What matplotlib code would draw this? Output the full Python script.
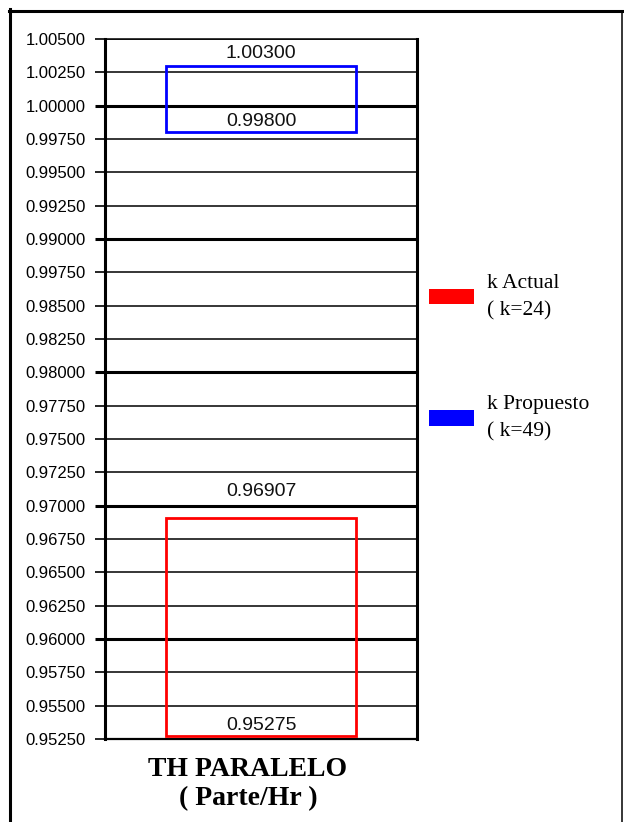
import matplotlib
matplotlib.use('Agg')
import matplotlib.pyplot as plt
from matplotlib.patches import Patch
from matplotlib.lines import Line2D

# datos: rango de TH paralelo para cada k
series = ['k Actual\n( k=24)', 'k Propuesto\n( k=49)']
lows = [0.95275, 0.99800]
highs = [0.96907, 1.00300]
colors = ['#ff0000', '#0000ff']
label_offsets = [13, 2.5]  # separacion de la etiqueta superior (pt)

yticks = [1.00500, 1.00250, 1.00000, 0.99750, 0.99500, 0.99250, 0.99000,
          0.98750, 0.98500, 0.98250, 0.98000, 0.97750, 0.97500, 0.97250,
          0.97000, 0.96750, 0.96500, 0.96250, 0.96000, 0.95750, 0.95500,
          0.95250]
ytick_labels = ['1.00500', '1.00250', '1.00000', '0.99750', '0.99500',
                '0.99250', '0.99000', '0.99750', '0.98500', '0.98250',
                '0.98000', '0.97750', '0.97500', '0.97250', '0.97000',
                '0.96750', '0.96500', '0.96250', '0.96000', '0.95750',
                '0.95500', '0.95250']
xlabel = 'TH PARALELO\n( Parte/Hr )'

W, H = 624, 822
fig = plt.figure(figsize=(W / 100, H / 100), dpi=100)
fig.patch.set_facecolor('white')

# marco exterior
fig.add_artist(Line2D([10 / W, 10 / W], [0, 1 - 9 / H], color='black', lw=2.2, transform=fig.transFigure))
fig.add_artist(Line2D([9 / W, 623 / W], [1 - 11 / H, 1 - 11 / H], color='black', lw=2.2, transform=fig.transFigure))
fig.add_artist(Line2D([622 / W, 622 / W], [0, 1 - 11 / H], color='black', lw=1.1, transform=fig.transFigure))

ax = fig.add_axes([105 / W, 1 - 739 / H, 312 / W, 700 / H])
ax.set_xlim(0, 1)
ax.set_ylim(0.9525, 1.005)

# cajas
for lo, hi, c, off in zip(lows, highs, colors, label_offsets):
    ax.bar(0.5, hi - lo, bottom=lo, width=0.606, fill=False, edgecolor=c,
           linewidth=2, zorder=3)
    ax.annotate(f'{hi:.5f}', (0.5, hi), xytext=(0, off), textcoords='offset points',
                ha='center', va='bottom', fontsize=14, family='Liberation Sans',
                color='#111111')
    ax.annotate(f'{lo:.5f}', (0.5, lo), xytext=(0, 1.5), textcoords='offset points',
                ha='center', va='bottom', fontsize=14, family='Liberation Sans',
                color='#111111')

ax.set_yticks(yticks, ytick_labels)
ax.set_xticks([])
ax.tick_params(axis='y', length=7.2, width=1.2, pad=6.5, labelsize=12, colors='black')
for t in ax.get_yticklabels():
    t.set_family('Liberation Sans')
    t.set_color('black')

ax.yaxis.grid(True, color='black', linewidth=1.1)
for i, tk in enumerate(ax.yaxis.get_major_ticks()):
    if i % 4 == 2:
        tk.gridline.set_linewidth(2.2)
        tk.tick1line.set_markeredgewidth(2.2)

ax.spines['left'].set_linewidth(2.2)
ax.spines['right'].set_linewidth(2.2)
ax.spines['bottom'].set_linewidth(1.6)
ax.spines['top'].set_linewidth(1.1)

ax.set_xlabel(xlabel, fontfamily='Liberation Serif', fontweight='bold',
              fontsize=20, linespacing=1.2, va='top')
ax.xaxis.set_label_coords((248 - 105) / 312, -0.026)

handles = [Patch(facecolor=c, edgecolor='none') for c in colors]
leg = fig.legend(handles, series, loc='upper left',
                 bbox_to_anchor=(429 / W, 1 - 274 / H), frameon=False,
                 borderpad=0, borderaxespad=0, handlelength=2.1,
                 handleheight=0.75, handletextpad=0.6, labelspacing=3.5,
                 prop={'family': 'Liberation Serif', 'size': 15.5})
for t in leg.get_texts():
    t.set_linespacing(1.55)

fig.savefig('out.png', dpi=100)
